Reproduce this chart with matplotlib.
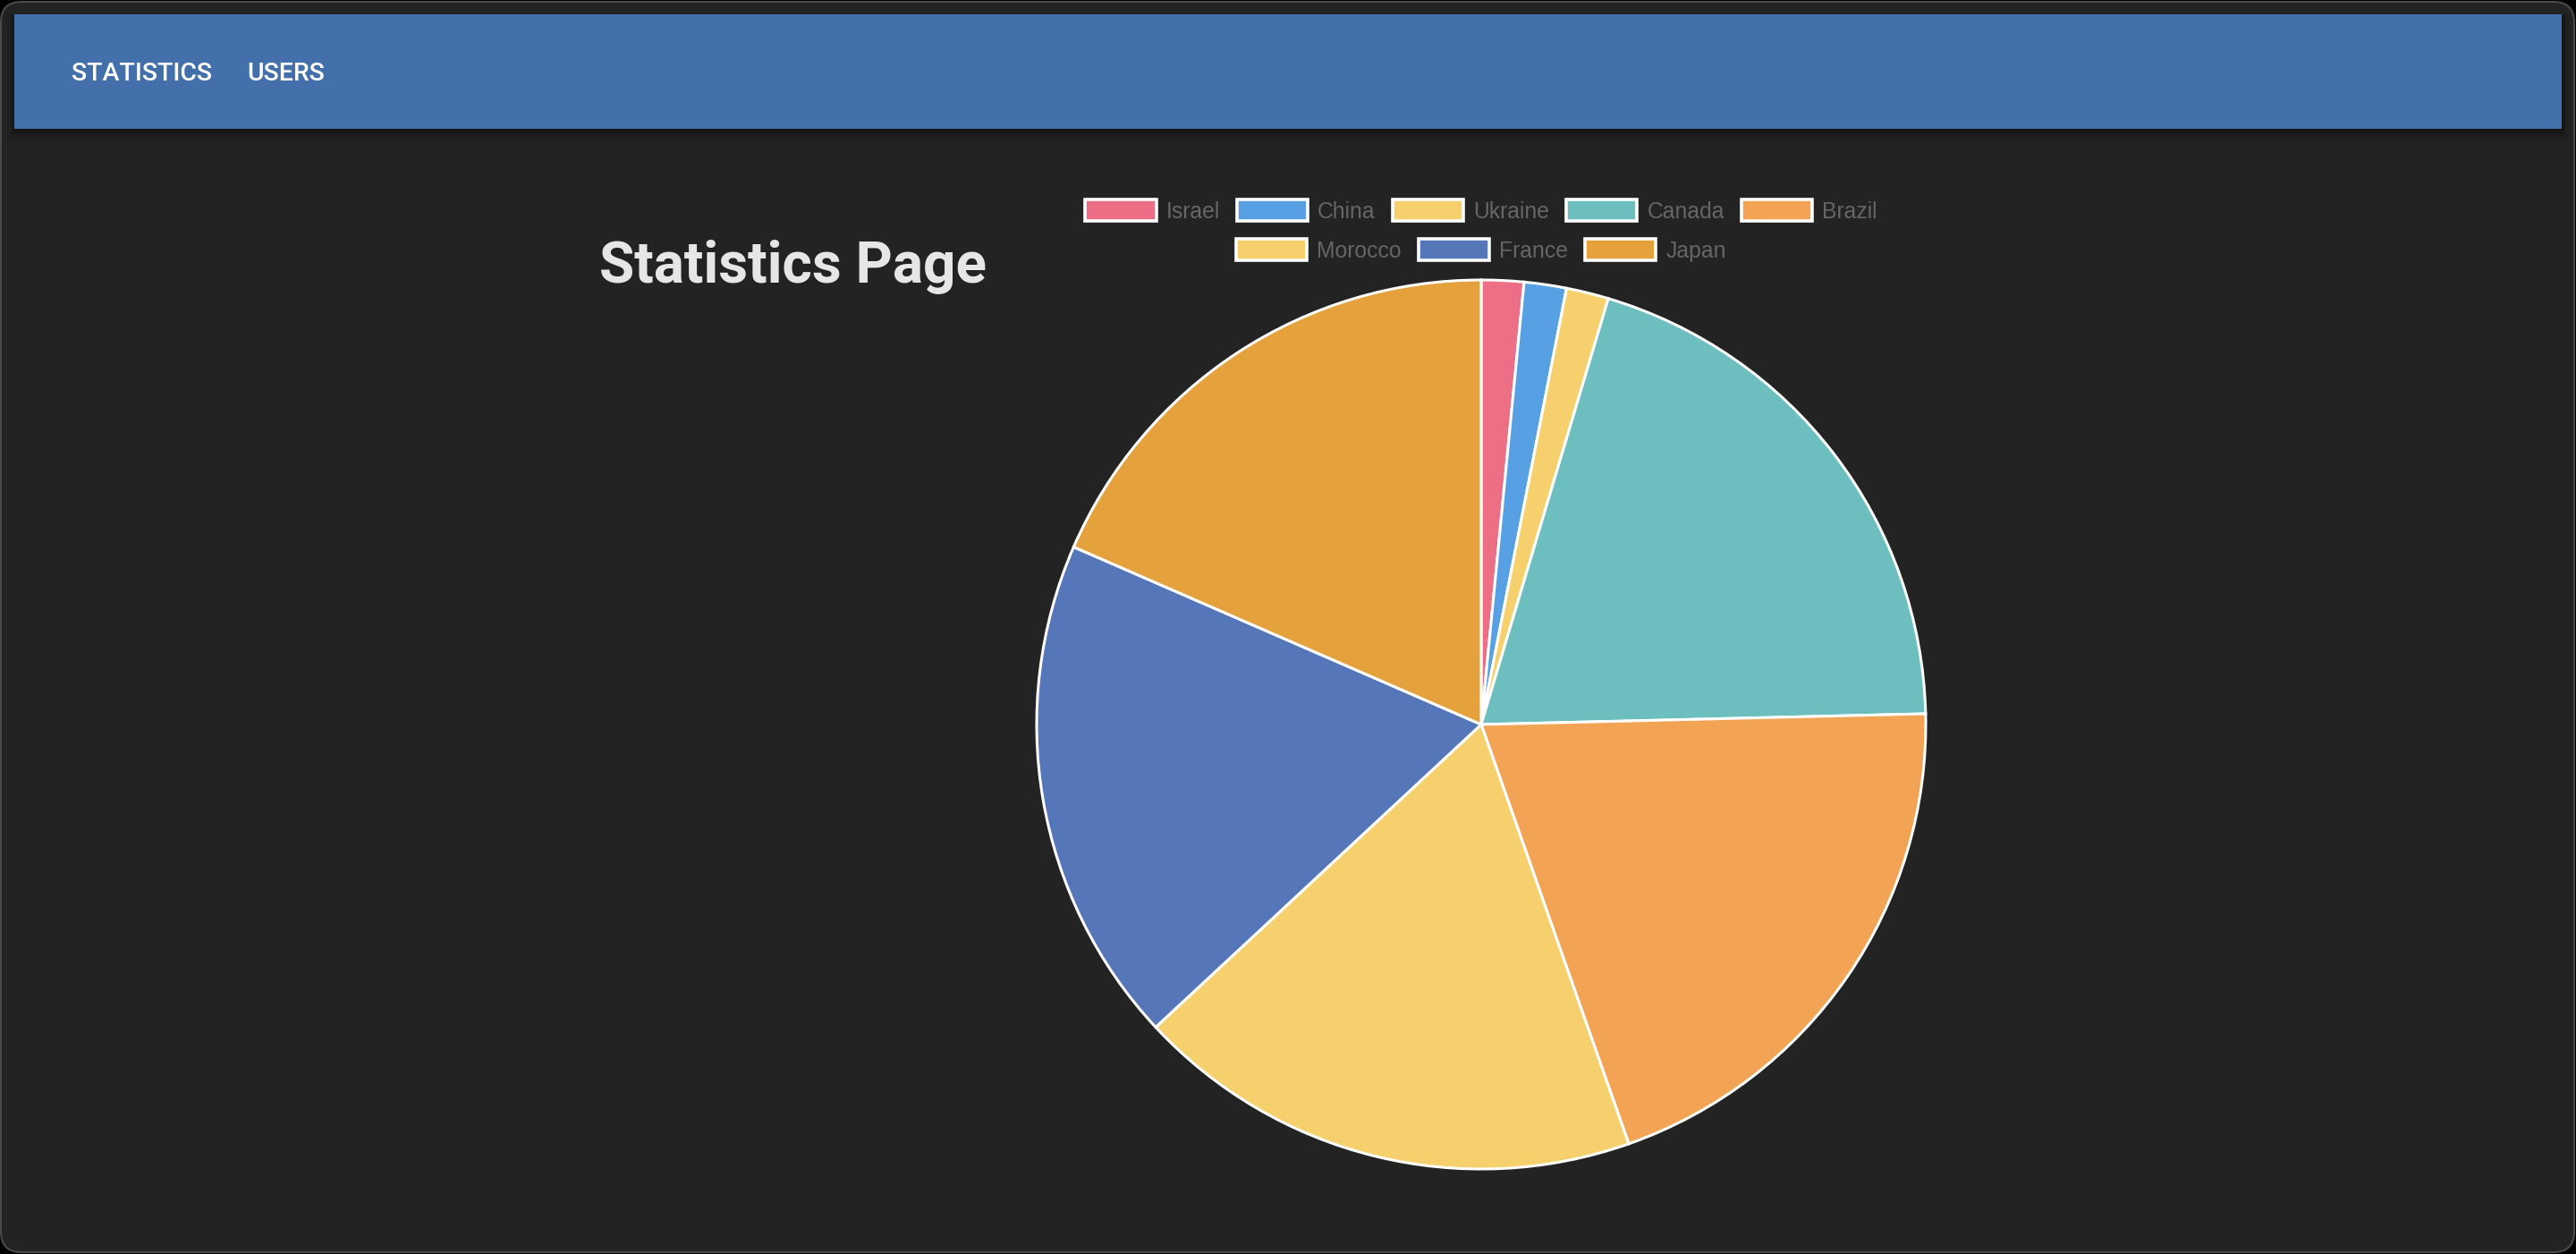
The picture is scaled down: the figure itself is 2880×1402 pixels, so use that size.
import matplotlib
matplotlib.use("Agg")
import matplotlib.pyplot as plt
from matplotlib.patches import Rectangle, FancyBboxPatch
from matplotlib.font_manager import FontProperties

# ---- data ----
countries = ["Israel", "China", "Ukraine", "Canada", "Brazil", "Morocco", "France", "Japan"]
values = [1, 1, 1, 13, 13, 12, 12, 12]
colors = ["#EC6F85", "#56A0E3", "#F6D06C", "#6DBEBE", "#F2A454", "#F6D06C", "#5577B9", "#E5A13C"]
nav_items = ["STATISTICS", "USERS"]
page_title = "Statistics Page"

W, H = 2880, 1402
DPI = 100
BG = "#232323"

fig = plt.figure(figsize=(W / DPI, H / DPI), dpi=DPI, facecolor="#000000")

def fx(px):
    return px / W

def fy(py):  # py measured from top
    return 1 - py / H

# window background with rounded corners
win = FancyBboxPatch((fx(1), fy(1400)), fx(2877), 1398 / H,
                     boxstyle="round,pad=0,rounding_size=0.008",
                     transform=fig.transFigure, facecolor=BG,
                     edgecolor="#4a4a4a", linewidth=1.5, zorder=-3,
                     mutation_aspect=W / H)
fig.patches.append(win)

# nav bar shadow
for i, a in enumerate([0.30, 0.22, 0.15, 0.10, 0.06, 0.03]):
    off = (i + 1) * 3
    fig.patches.append(Rectangle((fx(16 - off / 2), fy(144 + off)), fx(2848 + off), (128 + off) / H,
                                 transform=fig.transFigure, facecolor="#111111",
                                 alpha=a, edgecolor="none", zorder=-2))
# nav bar
fig.patches.append(Rectangle((fx(16), fy(144)), fx(2848), 128 / H,
                             transform=fig.transFigure, facecolor="#4370AA",
                             edgecolor="none", zorder=-1))

nav_x = [80, 276]
for label, x in zip(nav_items, nav_x):
    fig.text(fx(x), fy(90), label, fontsize=20.5, family="Roboto", weight="medium",
             color="#FFFFFF", ha="left", va="baseline", zorder=3)

fig.text(fx(670), fy(316), page_title, fontsize=46.0, family="Roboto", weight="bold",
         color="#E6E6E6", ha="left", va="baseline", zorder=3)

# pie
cx, cy, r = 1656, 810, 497
half = 520
ax = fig.add_axes([fx(cx - half), fy(cy + half), 2 * half / W, 2 * half / H])
ax.set_zorder(5)
ax.set_facecolor("none")
wedges, _ = ax.pie(values, colors=colors, startangle=90, counterclock=False,
                   radius=1.0,
                   wedgeprops=dict(edgecolor="white", linewidth=2.2))
lim = half / r
ax.set_xlim(-lim, lim)
ax.set_ylim(-lim, lim)
ax.set_aspect("equal")
ax.axis("off")

fp = FontProperties(family="Liberation Sans", size=17.8)
leg_kw = dict(frameon=False, prop=fp, labelcolor="#666666",
              handlelength=3.2, handleheight=1.12, handletextpad=0.45,
              columnspacing=0.77, borderpad=0, borderaxespad=0, loc="center")

leg1 = fig.legend(wedges[:5], countries[:5], ncol=5,
                  bbox_to_anchor=(fx(cx), fy(236)), **leg_kw)
leg2 = fig.legend(wedges[5:], countries[5:], ncol=3,
                  bbox_to_anchor=(fx(cx), fy(280)), **leg_kw)
for lg in (leg1, lg2) if False else (leg1, leg2):
    for h in lg.legend_handles:
        h.set_linewidth(2.6)

fig.savefig("out.png", dpi=DPI, facecolor=fig.get_facecolor())
